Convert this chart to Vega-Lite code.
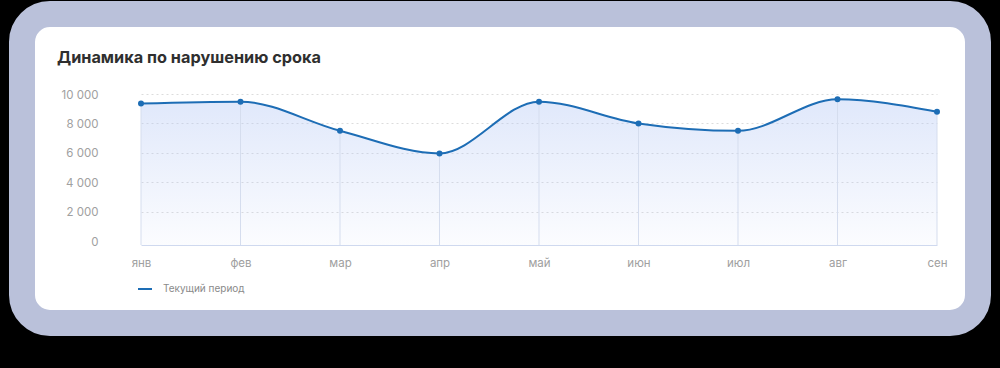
{
  "$schema": "https://vega.github.io/schema/vega-lite/v6.json",
  "autosize": {"type": "none"},
  "width": 956,
  "height": 309,
  "padding": {"left": 22, "top": 14, "right": 22, "bottom": 45},
  "background": "#000000",
  "view": {"fill": "#ffffff", "stroke": "#bac1da", "strokeWidth": 26, "cornerRadius": 28},
  "title": {
    "text": "Динамика по нарушению срока",
    "anchor": "start",
    "frame": "group",
    "font": "Inter",
    "fontSize": 16.3,
    "fontWeight": "bold",
    "color": "#2f2f2f",
    "offset": 0,
    "baseline": "alphabetic",
    "dx": 35,
    "dy": 65
  },
  "data": {
    "values": [
      {"month": "янв", "value": 9350, "series": "Текущий период"},
      {"month": "фев", "value": 9480, "series": "Текущий период"},
      {"month": "мар", "value": 7500, "series": "Текущий период"},
      {"month": "апр", "value": 5960, "series": "Текущий период"},
      {"month": "май", "value": 9480, "series": "Текущий период"},
      {"month": "июн", "value": 8000, "series": "Текущий период"},
      {"month": "июл", "value": 7500, "series": "Текущий период"},
      {"month": "авг", "value": 9640, "series": "Текущий период"},
      {"month": "сен", "value": 8790, "series": "Текущий период"}
    ]
  },
  "encoding": {
    "x": {
      "field": "month",
      "type": "ordinal",
      "sort": null,
      "scale": {"type": "point", "range": [119, 915], "padding": 0},
      "axis": {
        "title": null,
        "orient": "bottom",
        "offset": -78,
        "labelAngle": 0,
        "ticks": false,
        "tickSize": 0,
        "labelPadding": 12,
        "labelFont": "Inter",
        "labelFontSize": 11.5,
        "labelColor": "#a0a0a0",
        "domainColor": "#cfd9ef",
        "grid": false
      }
    },
    "y": {
      "field": "value",
      "type": "quantitative",
      "scale": {"domain": [-270, 10000], "range": [231, 80], "nice": false, "zero": false},
      "axis": {
        "title": null,
        "values": [0, 2000, 4000, 6000, 8000, 10000],
        "offset": -76,
        "domain": false,
        "ticks": false,
        "tickSize": 0,
        "labelPadding": 0,
        "labelFont": "Inter",
        "labelFontSize": 11.5,
        "labelColor": "#a0a0a0",
        "labelOffset": 1,
        "labelExpr": "replace(format(datum.value, ','), ',', ' ')",
        "grid": true,
        "gridColor": "#dcdcdc",
        "gridDash": [2, 3],
        "gridOpacity": {"condition": {"test": "datum.value === 0", "value": 0}, "value": 1}
      }
    }
  },
  "layer": [
    {
      "mark": {
        "type": "area",
        "interpolate": "monotone",
        "color": {
          "gradient": "linear",
          "x1": 0, "y1": 0, "x2": 0, "y2": 1,
          "stops": [
            {"offset": 0, "color": "rgba(181,200,245,0.42)"},
            {"offset": 1, "color": "rgba(181,200,245,0.05)"}
          ]
        }
      },
      "encoding": {"y2": {"datum": -270}}
    },
    {
      "mark": {"type": "rule", "color": "#d5ddee", "strokeWidth": 1},
      "encoding": {"y2": {"datum": -270}}
    },
    {
      "mark": {"type": "line", "interpolate": "monotone", "strokeWidth": 2, "color": "#1d6db5"},
      "encoding": {
        "color": {
          "field": "series",
          "type": "nominal",
          "scale": {"range": ["#1d6db5"]},
          "legend": {
            "title": null,
            "orient": "none",
            "legendX": 115,
            "legendY": 267,
            "symbolType": "stroke",
            "symbolSize": 196,
            "symbolStrokeWidth": 2,
            "labelFont": "Inter",
            "labelFontSize": 10,
            "labelColor": "#8a8a8a",
            "labelOffset": 10,
            "padding": 0
          }
        }
      }
    },
    {
      "mark": {"type": "point", "filled": true, "size": 36, "opacity": 1, "color": "#1d6db5"}
    }
  ]
}
